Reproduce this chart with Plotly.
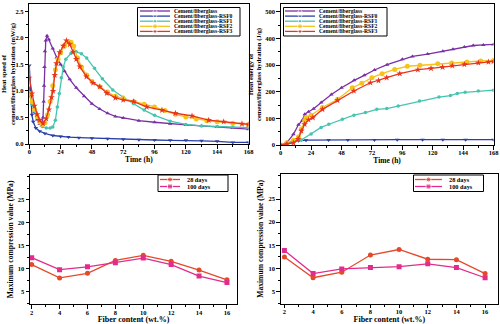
import plotly.graph_objects as go

# ---------------- DATA ----------------
series_names = ["Cement/fiberglass", "Cement/fiberglass-RSF0", "Cement/fiberglass-RSF1",
                "Cement/fiberglass-RSF2", "Cement/fiberglass-RSF3"]

# Heat speed (mW/g) vs time (h)
speed_t_cf = [0, 2, 4, 6, 8, 9.5, 10.5, 11, 11.3, 11.6, 12, 12.6, 13.6, 15, 18, 21, 24, 27, 31, 36, 42, 48, 54, 60, 66, 72, 84, 96, 108, 120, 132, 144, 156, 168]
speed_v_cf = [1.05, 0.8, 0.6, 0.46, 0.38, 0.35, 0.5, 0.8, 1.1, 1.45, 1.75, 1.95, 2.04, 1.97, 1.8, 1.63, 1.5, 1.37, 1.22, 1.06, 0.9, 0.76, 0.66, 0.58, 0.52, 0.49, 0.44, 0.41, 0.38, 0.36, 0.34, 0.32, 0.30, 0.28]
speed_t_rsf0 = [0, 1, 2, 3, 5, 8, 12, 18, 24, 30, 38, 48, 60, 72, 84, 96, 108, 120, 132, 144, 156, 168]
speed_v_rsf0 = [1.48, 0.9, 0.55, 0.42, 0.3, 0.24, 0.2, 0.16, 0.14, 0.13, 0.12, 0.11, 0.1, 0.09, 0.08, 0.075, 0.07, 0.07, 0.06, 0.05, 0.03, 0.03]
speed_t_rsf1 = [0, 2, 4, 6, 8, 10, 13, 16, 18, 20, 21.5, 23, 24.5, 26, 28, 32, 36, 40, 44, 50, 56, 64, 72, 80, 88, 96, 108, 120, 132, 144, 156, 168]
speed_v_rsf1 = [0.92, 0.75, 0.62, 0.5, 0.4, 0.33, 0.3, 0.3, 0.32, 0.45, 0.7, 0.95, 1.25, 1.45, 1.6, 1.71, 1.74, 1.7, 1.62, 1.43, 1.23, 1.02, 0.88, 0.76, 0.64, 0.54, 0.43, 0.37, 0.34, 0.33, 0.32, 0.31]
speed_t_rsf2 = [0, 2, 4, 6, 8, 10, 12, 14, 16, 18, 20, 22, 24, 27, 30, 32, 34, 37, 40, 44, 48, 54, 60, 66, 72, 80, 88, 96, 104, 112, 120, 128, 136, 144, 156, 168]
speed_v_rsf2 = [0.95, 0.8, 0.65, 0.52, 0.42, 0.37, 0.4, 0.55, 0.8, 1.1, 1.4, 1.6, 1.72, 1.85, 1.93, 1.92, 1.85, 1.62, 1.45, 1.3, 1.18, 1.08, 0.98, 0.9, 0.86, 0.8, 0.75, 0.7, 0.63, 0.56, 0.51, 0.47, 0.44, 0.42, 0.39, 0.37]
speed_t_rsf3 = [0, 2, 4, 6, 8, 10.5, 13, 15, 17, 18.2, 19.5, 20.8, 23.3, 26, 28.4, 31, 33.6, 36, 38.7, 43.8, 48.9, 54, 59.4, 66, 72, 80, 90, 101.7, 112, 124.7, 137.5, 149, 163, 168]
speed_v_rsf3 = [1.25, 0.95, 0.72, 0.56, 0.45, 0.39, 0.48, 0.65, 0.88, 1.0, 1.3, 1.52, 1.73, 1.85, 1.95, 1.88, 1.74, 1.6, 1.46, 1.27, 1.15, 1.08, 0.96, 0.87, 0.83, 0.8, 0.7, 0.64, 0.58, 0.53, 0.45, 0.42, 0.38, 0.37]

# Heat energy (J/g) vs time (h)
energy_t_cf = [0, 5, 10, 14, 17, 19, 22, 26, 32, 40, 48, 58, 66, 74, 84, 96, 104, 116, 128, 136, 145, 152, 160, 168]
energy_v_cf = [0, 10, 40, 76, 92, 116, 125, 136, 160, 190, 215, 243, 262, 282, 302, 322, 333, 342, 352, 360, 368, 374, 376, 378]
energy_t_rsf0 = [0, 5, 10, 14, 20, 37.8, 53, 74, 92, 112, 128, 146, 168]
energy_v_rsf0 = [0, 6, 13, 16, 18, 19, 19, 19, 20, 20, 20, 20, 20]
energy_t_rsf1 = [0, 5, 10, 16.3, 24, 31.9, 38, 48.7, 57.8, 66.9, 75.9, 83.7, 92.8, 109.6, 125, 134, 139.4, 145.6, 156, 168]
energy_v_rsf1 = [0, 4, 10, 19, 41, 66, 78, 97, 112, 122, 134, 137, 147, 165, 180, 186, 194, 198, 203, 206]
energy_t_rsf2 = [0, 5, 10, 14, 16.3, 18.9, 20, 24, 33, 45, 56.5, 64, 72, 80, 90, 100, 110, 124, 135, 147, 158, 168]
energy_v_rsf2 = [0, 8, 18, 30, 60, 91, 103, 112, 141, 172, 215, 232, 253, 268, 284, 296, 300, 305, 308, 312, 316, 318]
energy_t_rsf3 = [0, 5, 10, 13.7, 16.3, 18.9, 22, 25.4, 33, 44.8, 57.8, 70.8, 77.2, 83.7, 94, 108.3, 118.7, 127.8, 135.5, 145, 156, 164, 168]
energy_v_rsf3 = [0, 4, 8, 22, 53, 78, 95, 103, 134, 168, 203, 234, 242, 253, 268, 283, 288, 293, 298, 303, 309, 312, 314]

# Compression (MPa) vs fiber content (wt.%)
fiber_content = [2, 4, 6, 8, 10, 12, 14, 16]
comp_names = ["28 days", "100 days"]
compA_28 = [10.9, 8.0, 9.0, 11.8, 12.9, 11.6, 9.7, 7.6]
compA_100 = [12.4, 9.8, 10.4, 11.3, 12.3, 10.9, 8.4, 7.0]
compB_28 = [12.5, 8.0, 9.2, 12.9, 14.1, 12.0, 11.9, 8.9]
compB_100 = [13.9, 8.9, 9.9, 10.2, 10.4, 11.0, 10.2, 8.0]
comp_ticks = [5, 10, 15, 20, 25]

# ---------------- STYLE ----------------
W, H = 500, 324
FONT = "Liberation Serif"
colors = ["#7A2FA6", "#2B3FA8", "#45C4B0", "#F6C21C", "#E8341C"]
symbols = ["triangle-up", "triangle-down", "circle", "circle", "star"]
msizes = [4, 4, 3.5, 5, 5]
comp_colors = ["#E5492C", "#E22C8C"]
comp_symbols = ["circle", "square"]

fig = go.Figure()

speed_t = [speed_t_cf, speed_t_rsf0, speed_t_rsf1, speed_t_rsf2, speed_t_rsf3]
speed_v = [speed_v_cf, speed_v_rsf0, speed_v_rsf1, speed_v_rsf2, speed_v_rsf3]
energy_t = [energy_t_cf, energy_t_rsf0, energy_t_rsf1, energy_t_rsf2, energy_t_rsf3]
energy_v = [energy_v_cf, energy_v_rsf0, energy_v_rsf1, energy_v_rsf2, energy_v_rsf3]

for i in range(5):
    fig.add_trace(go.Scatter(x=speed_t[i], y=speed_v[i], mode="lines+markers", name=series_names[i],
                             line=dict(color=colors[i], width=1.3),
                             marker=dict(symbol=symbols[i], size=msizes[i], color=colors[i]),
                             xaxis="x", yaxis="y", showlegend=False))
for i in range(5):
    fig.add_trace(go.Scatter(x=energy_t[i], y=energy_v[i], mode="lines+markers", name=series_names[i],
                             line=dict(color=colors[i], width=1.3),
                             marker=dict(symbol=symbols[i], size=msizes[i], color=colors[i]),
                             xaxis="x2", yaxis="y2", showlegend=False))
for (ax, ay, d28, d100) in [("x3", "y3", compA_28, compA_100), ("x4", "y4", compB_28, compB_100)]:
    for j, vals in enumerate([d28, d100]):
        fig.add_trace(go.Scatter(x=fiber_content, y=vals, mode="lines+markers", name=comp_names[j],
                                 line=dict(color=comp_colors[j], width=1.3),
                                 marker=dict(symbol=comp_symbols[j], size=5, color=comp_colors[j]),
                                 xaxis=ax, yaxis=ay, showlegend=False))

# ---------------- CUSTOM LEGENDS (overlay pixel axis) ----------------
shapes = []
annotations = []

def add_legend(box, names, cols, syms, sizes, lx0, lx1, tx, y0, dy, fsize):
    shapes.append(dict(type="rect", xref="x5", yref="y5", x0=box[0], y0=box[1], x1=box[2], y1=box[3],
                       line=dict(color="black", width=1), fillcolor="rgba(0,0,0,0)", layer="above"))
    for k, nm in enumerate(names):
        yy = y0 + k * dy
        fig.add_trace(go.Scatter(x=[lx0, (lx0 + lx1) / 2, lx1], y=[yy, yy, yy], mode="lines+markers",
                                 line=dict(color=cols[k], width=1.3),
                                 marker=dict(symbol=syms[k], size=[0, sizes[k], 0], color=cols[k]),
                                 xaxis="x5", yaxis="y5", showlegend=False, hoverinfo="skip"))
        annotations.append(dict(xref="x5", yref="y5", x=tx, y=yy, text=nm, showarrow=False,
                                xanchor="left", yanchor="middle",
                                font=dict(family=FONT, size=fsize, color="black", weight="bold")))

add_legend((137.5, 7.5, 240, 36), series_names, colors, symbols, msizes, 140, 170, 172, 11, 5.1, 5.6)
add_legend((283.5, 7.5, 387, 36), series_names, colors, symbols, msizes, 285, 315, 317, 11, 5.1, 5.6)
add_legend((158, 175, 228, 191.5), comp_names, comp_colors, comp_symbols, [5, 5], 160, 180, 185, 179.5, 7, 6.3)
add_legend((413.5, 175, 483.5, 191.5), comp_names, comp_colors, comp_symbols, [5, 5], 415, 442, 447, 179.5, 7, 6.3)

# ---------------- AXES ----------------
def px_dom_x(a, b):
    return [a / W, b / W]

def px_dom_y(top, bottom):
    return [1 - bottom / H, 1 - top / H]

tickfont = dict(family=FONT, size=6.5, color="black", weight="bold")
titlefont = dict(family=FONT, size=7.5, color="black", weight="bold")

def axis(domain, rng, dtick, minor_dtick, anchor, title="", tick0=0, fmt=None, standoff=None, tfont=None,
         tickvals=None, lab_off=0):
    d = dict(domain=domain, range=rng, dtick=dtick, tick0=tick0, anchor=anchor,
             showline=True, linecolor="black", linewidth=1, mirror=True,
             ticks="outside", ticklen=3.5, tickwidth=1, tickcolor="black",
             minor=dict(ticks="outside", ticklen=2, dtick=minor_dtick, tick0=tick0, tickcolor="black"),
             showgrid=False, zeroline=False, tickfont=tickfont, automargin=False,
             ticklabelstandoff=lab_off, ticklabeloverflow="allow",
             title=dict(text=title, font=tfont or titlefont))
    if tickvals is not None:
        d["tickmode"] = "array"
        d["tickvals"] = tickvals
    if fmt:
        d["tickformat"] = fmt
    if standoff is not None:
        d["title"]["standoff"] = standoff
    return d

layout = dict(
    width=W, height=H, margin=dict(l=0, r=0, t=0, b=0),
    paper_bgcolor="white", plot_bgcolor="rgba(0,0,0,0)",
    xaxis=axis(px_dom_x(29.3, 248.5), [0, 168], 24, 12, "y", "Time (h)", standoff=0, lab_off=-2),
    yaxis=axis(px_dom_y(4, 144), [0, 2.64], 0.5, 0.25, "x",
               "Heat speed of<br>cement/fiberglass hydration (mW/g)", fmt=".1f", standoff=2,
               tfont=dict(family=FONT, size=6.6, color="black", weight="bold")),
    xaxis2=axis(px_dom_x(280.7, 493.5), [0, 168], 24, 12, "y2", "Time (h)", standoff=0, lab_off=-2),
    yaxis2=axis(px_dom_y(4, 145), [0, 530], 100, 50, "x2",
                "Heat energy of<br>cement/fiberglass hydration (J/g)", standoff=2,
                tfont=dict(family=FONT, size=6.6, color="black", weight="bold")),
    xaxis3=axis(px_dom_x(30, 237), [1.88, 16.72], 2, 1, "y3", "Fiber content (wt.%)", standoff=0,
                tfont=dict(family=FONT, size=8, color="black", weight="bold"), lab_off=-2),
    yaxis3=axis(px_dom_y(174.7, 304.2), [2.3, 30.4], 5, 2.5, "x3", "Maximum compression value (MPa)", standoff=3,
                tfont=dict(family=FONT, size=7.6, color="black", weight="bold"), tickvals=comp_ticks),
    xaxis4=axis(px_dom_x(280.7, 498), [1.74, 16.9], 2, 1, "y4", "Fiber content (wt.%)", standoff=0,
                tfont=dict(family=FONT, size=8, color="black", weight="bold"), lab_off=-2),
    yaxis4=axis(px_dom_y(174, 303.7), [2.4, 30.4], 5, 2.5, "x4", "Maximum compression value (MPa)", standoff=3,
                tfont=dict(family=FONT, size=7.6, color="black", weight="bold"), tickvals=comp_ticks),
    xaxis5=dict(domain=[0, 1], range=[0, W], visible=False, anchor="y5", fixedrange=True),
    yaxis5=dict(domain=[0, 1], range=[H, 0], visible=False, anchor="x5", fixedrange=True),
    shapes=shapes, annotations=annotations, showlegend=False,
)
fig.update_layout(**layout)
fig.write_html("out.html")
